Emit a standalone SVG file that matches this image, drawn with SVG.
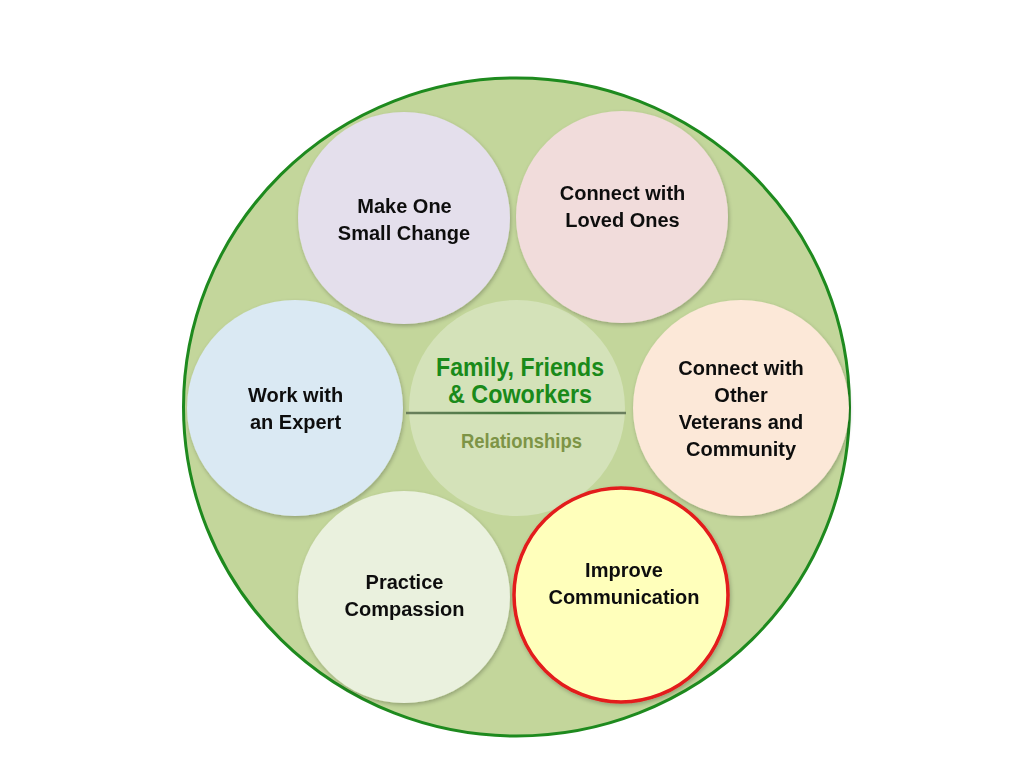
<svg xmlns="http://www.w3.org/2000/svg" width="1024" height="768" viewBox="0 0 1024 768">
<defs>
<style>
.lbl{font-family:"Liberation Sans",Arial,sans-serif;font-weight:bold;font-size:20px;fill:#111;text-anchor:middle}
.ttl{font-family:"Liberation Sans Narrow","Liberation Sans",Arial,sans-serif;font-weight:bold;font-size:26px;fill:#1a8a1a;text-anchor:middle}
.sub{font-family:"Liberation Sans Narrow","Liberation Sans",Arial,sans-serif;font-weight:bold;font-size:21px;fill:#7d9446;text-anchor:middle}
.node{filter:url(#sh)}
</style>
<filter id="sh" x="-20%" y="-20%" width="140%" height="140%">
<feGaussianBlur in="SourceAlpha" stdDeviation="2"/>
<feOffset dx="1" dy="2" result="b"/>
<feComponentTransfer><feFuncA type="linear" slope="0.25"/></feComponentTransfer>
<feMerge><feMergeNode/><feMergeNode in="SourceGraphic"/></feMerge>
</filter>
<linearGradient id="lg" gradientUnits="userSpaceOnUse" x1="406" y1="0" x2="626" y2="0">
<stop offset="0" stop-color="#6b7f5e"/>
<stop offset="0.5" stop-color="#3f7a3a"/>
<stop offset="1" stop-color="#6b7f5e"/>
</linearGradient>
</defs>
<rect width="1024" height="768" fill="#ffffff"/>
<g id="outer">
<ellipse cx="516.5" cy="407" rx="333" ry="329" fill="#c3d69b" stroke="#1e8a1e" stroke-width="3"/>
</g>
<g id="connectors"></g>
<g id="center">
<circle cx="517" cy="408" r="108" fill="#d4e2b9"/>
<line x1="406" y1="413" x2="626" y2="413" stroke="url(#lg)" stroke-width="2.5"/>
<text class="ttl" x="520" y="376" textLength="168" lengthAdjust="spacingAndGlyphs">Family, Friends</text>
<text class="ttl" x="520" y="403" textLength="144" lengthAdjust="spacingAndGlyphs">&amp; Coworkers</text>
<text class="sub" x="521.5" y="448" textLength="121" lengthAdjust="spacingAndGlyphs">Relationships</text>
</g>
<g id="make-one" class="node">
<circle cx="404" cy="218" r="106" fill="#e4dfec"/>
<text class="lbl" x="404.5" y="213">Make One</text>
<text class="lbl" x="404" y="240">Small Change</text>
</g>
<g id="loved-ones" class="node">
<circle cx="622" cy="217" r="106" fill="#f1dcdb"/>
<text class="lbl" x="622.5" y="200">Connect with</text>
<text class="lbl" x="622.5" y="227">Loved Ones</text>
</g>
<g id="expert" class="node">
<circle cx="295" cy="408" r="108" fill="#dae9f3"/>
<text class="lbl" x="295.5" y="402">Work with</text>
<text class="lbl" x="295.5" y="429">an Expert</text>
</g>
<g id="veterans" class="node">
<circle cx="741" cy="408" r="108" fill="#fce8d8"/>
<text class="lbl" x="741" y="375">Connect with</text>
<text class="lbl" x="741" y="402">Other</text>
<text class="lbl" x="741" y="429">Veterans and</text>
<text class="lbl" x="741" y="456">Community</text>
</g>
<g id="compassion" class="node">
<circle cx="404" cy="597" r="106" fill="#eaf1de"/>
<text class="lbl" x="404.5" y="589">Practice</text>
<text class="lbl" x="404.5" y="616">Compassion</text>
</g>
<g id="communication" class="node">
<circle cx="621" cy="595" r="107" fill="#ffffbb" stroke="#e31b1b" stroke-width="3.5"/>
<text class="lbl" x="624" y="577">Improve</text>
<text class="lbl" x="624" y="604">Communication</text>
</g>
</svg>
